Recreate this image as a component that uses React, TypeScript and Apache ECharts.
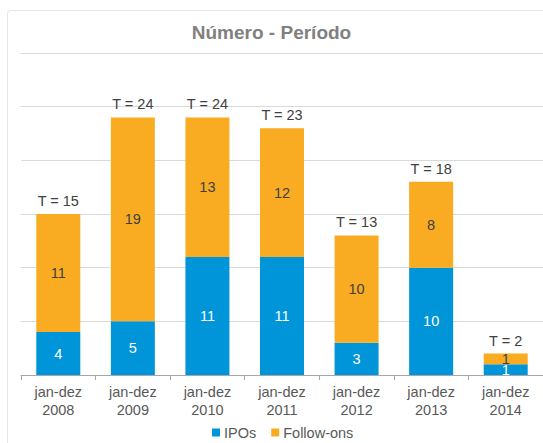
import React, { useEffect, useRef } from "react";
import * as echarts from "echarts";

const categories = ["jan-dez\n2008", "jan-dez\n2009", "jan-dez\n2010", "jan-dez\n2011", "jan-dez\n2012", "jan-dez\n2013", "jan-dez\n2014"];
const ipos = [4, 5, 11, 11, 3, 10, 1];
const followOns = [11, 19, 13, 12, 10, 8, 1];
const totals = [15, 24, 24, 23, 13, 18, 2];

const FONT = "'Liberation Sans', Arial, sans-serif";

export default function App() {
  const ref = useRef<HTMLDivElement>(null);
  useEffect(() => {
    if (!ref.current) return;
    const chart = echarts.init(ref.current, undefined, { renderer: "svg" });
    chart.setOption({
      animation: false,
      textStyle: { fontFamily: FONT },
      graphic: [
        {
          type: "rect",
          shape: { x: 7.5, y: 10.5, width: 600, height: 500, r: 3 },
          style: { fill: "none", stroke: "#e6e6e6", lineWidth: 1 },
          silent: true,
        },
      ],
      title: {
        text: "Número - Período",
        left: "center",
        top: 18,
        textStyle: { fontFamily: FONT, fontSize: 19, fontWeight: "bold", color: "#808080" },
      },
      legend: {
        data: ["IPOs", "Follow-ons"],
        left: 212,
        top: 425,
        padding: 0,
        itemWidth: 8,
        itemHeight: 8,
        itemGap: 15,
        icon: "rect",
        textStyle: { fontFamily: FONT, fontSize: 14.5, color: "#595959", padding: [0, 0, 0, -1] },
      },
      grid: { left: 21, top: 53, width: 525, height: 322, containLabel: false },
      xAxis: {
        type: "category",
        data: categories,
        axisLine: { lineStyle: { color: "#a6a6a6" } },
        axisTick: { show: true, length: 5, lineStyle: { color: "#a6a6a6" } },
        axisLabel: { color: "#595959", fontSize: 14.5, lineHeight: 18, margin: 8, fontFamily: FONT },
      },
      yAxis: {
        type: "value",
        min: 0,
        max: 30,
        interval: 5,
        axisLabel: { show: false },
        axisLine: { show: false },
        axisTick: { show: false },
        splitLine: { lineStyle: { color: "#d9d9d9", width: 1 } },
      },
      series: [
        {
          name: "IPOs",
          type: "bar",
          stack: "t",
          data: ipos,
          barCategoryGap: "41%",
          itemStyle: { color: "#0095D8" },
          label: { show: true, position: "inside", color: "#ffffff", fontSize: 14.5, fontFamily: FONT },
        },
        {
          name: "Follow-ons",
          type: "bar",
          stack: "t",
          data: followOns,
          itemStyle: { color: "#F9AC22" },
          label: { show: true, position: "inside", color: "#404040", fontSize: 14.5, fontFamily: FONT },
        },
        {
          name: "Total",
          type: "line",
          data: totals,
          symbol: "circle",
          symbolSize: 1,
          lineStyle: { width: 0, color: "rgba(0,0,0,0)" },
          itemStyle: { color: "rgba(0,0,0,0)" },
          z: 5,
          label: {
            show: true,
            position: "top",
            distance: 5,
            color: "#404040",
            fontSize: 14.5,
            fontFamily: FONT,
            formatter: (p: any) => "T = " + p.value,
          },
        },
      ],
    });
    return () => chart.dispose();
  }, []);
  return <div ref={ref} style={{ position: "fixed", left: 0, top: 0, width: 543, height: 443, background: "#fff" }} />;
}
